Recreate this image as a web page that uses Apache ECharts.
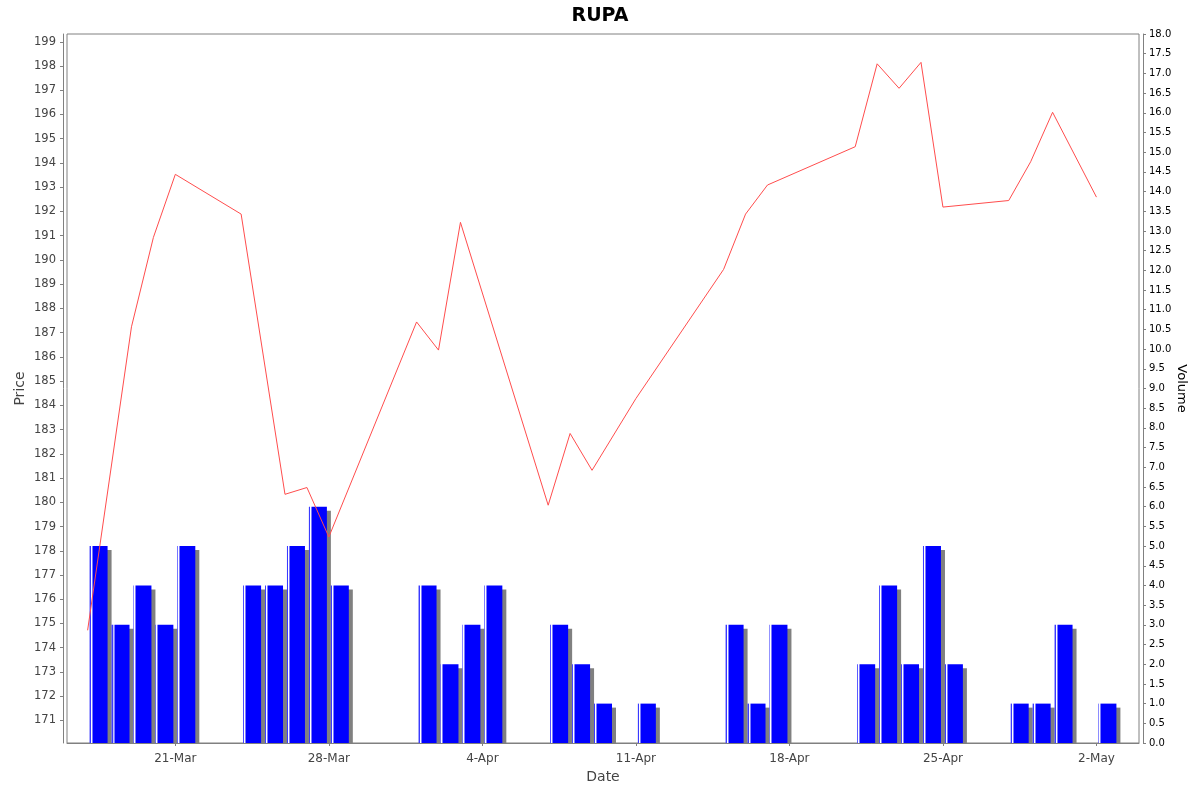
<!DOCTYPE html>
<html>
<head>
<meta charset="utf-8">
<title>RUPA</title>
<script src="https://cdn.jsdelivr.net/npm/echarts@6/dist/echarts.min.js"></script>
<style>
  html, body { margin: 0; padding: 0; background: #fff; }
  #chart { width: 1200px; height: 792px; }
</style>
</head>
<body>
<div id="chart"></div>
<script>
// trading days (2025), price close and volume
const dates = [
  '2025-03-17', '2025-03-18', '2025-03-19', '2025-03-20', '2025-03-21',
  '2025-03-24', '2025-03-25', '2025-03-26', '2025-03-27', '2025-03-28',
  '2025-04-01', '2025-04-02', '2025-04-03', '2025-04-04',
  '2025-04-07', '2025-04-08', '2025-04-09', '2025-04-11',
  '2025-04-15', '2025-04-16', '2025-04-17',
  '2025-04-21', '2025-04-22', '2025-04-23', '2025-04-24', '2025-04-25',
  '2025-04-28', '2025-04-29', '2025-04-30', '2025-05-02'
]
// null = no price that day (line just joins the neighbours)
const prices = [
  174.72, null, 187.24, 190.93, 193.53,
  191.89, null, 180.33, 180.61, 178.57,
  187.44, 186.28, 191.55, null,
  179.88, 182.84, 181.32, 184.28,
  189.61, 191.89, 193.09,
  194.67, 198.09, 197.08, 198.15, 192.18,
  192.45, 194.05, 196.09, 192.59
]
const volumes = [
  5, 3, 4, 3, 5,
  4, 4, 5, 6, 4,
  4, 2, 3, 4,
  3, 2, 1, 1,
  3, 1, 3,
  2, 4, 2, 5, 2,
  1, 1, 3, 1
]
const dateTicks = ['2025-03-21', '2025-03-28', '2025-04-04', '2025-04-11', '2025-04-18', '2025-04-25', '2025-05-02']
const priceTicks = [171, 172, 173, 174, 175, 176, 177, 178, 179, 180, 181, 182, 183, 184, 185,
  186, 187, 188, 189, 190, 191, 192, 193, 194, 195, 196, 197, 198, 199]
const months = ['Jan', 'Feb', 'Mar', 'Apr', 'May', 'Jun', 'Jul', 'Aug', 'Sep', 'Oct', 'Nov', 'Dec']

const DAY = 24 * 3600 * 1000
const toTime = s => {
  const p = s.split('-').map(Number)
  return new Date(p[0], p[1] - 1, p[2]).getTime()
}
const times = dates.map(toTime)
// axis runs over the whole span of the day bars plus ~2% margin
const span = times[times.length - 1] + DAY - times[0]
const xMin = times[0] - span * 0.02
const xMax = times[times.length - 1] + DAY + span * 0.02

const font = 'DejaVu Sans, sans-serif'
const axisGray = '#808080'
const BAR_W = 18
const SHADOW = 4

// each bar covers its trading day, so it sits at midday
const volData = times.map((t, i) => [t + DAY / 2, volumes[i]])

// gray drop shadow behind each volume bar, cut off at the plot floor
const renderShadow = (params, api) => {
  const top = api.coord([api.value(0), api.value(1)])
  const floor = api.coord([api.value(0), 0])
  return {
    type: 'rect',
    shape: {
      x: top[0] - BAR_W / 2 + SHADOW,
      y: top[1] + SHADOW,
      width: BAR_W,
      height: floor[1] - top[1] - SHADOW,
    },
    style: { fill: '#808080' },
  }
}

const chart = echarts.init(document.getElementById('chart'))
chart.setOption({
  animation: false,
  backgroundColor: '#fff',
  title: {
    text: 'RUPA',
    left: 'center',
    top: 2,
    textStyle: { fontFamily: font, fontSize: 19, fontWeight: 'bold', color: '#000' },
  },
  grid: {
    left: 67,
    right: 61,
    top: 34,
    bottom: 49,
    outerBoundsMode: 'none',
    show: true,
    borderColor: axisGray,
    borderWidth: 1,
    backgroundColor: '#fff',
  },
  // timestamps on a plain value axis, labelled as dates
  xAxis: {
    type: 'value',
    min: xMin,
    max: xMax,
    offset: 4,
    name: 'Date',
    nameLocation: 'middle',
    nameGap: 23,
    nameMoveOverlap: false,
    nameTextStyle: { fontFamily: font, fontSize: 14, color: '#444' },
    axisLine: { show: true, lineStyle: { color: axisGray } },
    axisTick: {
      show: true,
      length: 3,
      customValues: dateTicks.map(toTime),
      lineStyle: { color: axisGray },
    },
    axisLabel: {
      customValues: dateTicks.map(toTime),
      fontFamily: font,
      fontSize: 12,
      color: '#444',
      margin: 6,
      formatter: v => {
        const d = new Date(v)
        return d.getDate() + '-' + months[d.getMonth()]
      },
    },
    splitLine: { show: false },
  },
  yAxis: [
    {
      type: 'value',
      position: 'left',
      min: 170.07,
      max: 199.32,
      offset: 4,
      name: 'Price',
      nameLocation: 'middle',
      nameGap: 36,
      nameMoveOverlap: false,
      nameTextStyle: { fontFamily: font, fontSize: 14, color: '#444' },
      axisLine: { show: true, lineStyle: { color: axisGray } },
      axisTick: { show: true, length: 3, customValues: priceTicks, lineStyle: { color: axisGray } },
      axisLabel: {
        customValues: priceTicks,
        fontFamily: font,
        fontSize: 11.5,
        color: '#444',
        margin: 7,
      },
      splitLine: { show: false },
    },
    {
      type: 'value',
      position: 'right',
      min: 0,
      max: 18,
      interval: 0.5,
      offset: 4,
      name: 'Volume',
      nameLocation: 'middle',
      nameRotate: -90,
      nameGap: 32,
      nameMoveOverlap: false,
      nameTextStyle: { fontFamily: font, fontSize: 13, color: '#000' },
      axisLine: { show: true, lineStyle: { color: axisGray } },
      axisTick: { show: true, length: 3, lineStyle: { color: axisGray } },
      axisLabel: {
        fontFamily: font,
        fontSize: 10,
        color: '#000',
        margin: 6,
        formatter: v => v.toFixed(1),
      },
      splitLine: { show: false },
    },
  ],
  series: [
    {
      name: 'Volume shadow',
      type: 'custom',
      yAxisIndex: 1,
      data: volData,
      renderItem: renderShadow,
      silent: true,
      z: 1,
    },
    {
      name: 'Volume',
      type: 'bar',
      yAxisIndex: 1,
      data: volData,
      barWidth: BAR_W,
      itemStyle: {
        color: new echarts.graphic.LinearGradient(0, 0, 1, 0, [
          { offset: 0, color: '#3a3aff' },
          { offset: 0.055, color: '#3a3aff' },
          { offset: 0.056, color: '#ffffff' },
          { offset: 0.11, color: '#ffffff' },
          { offset: 0.111, color: '#7a7aff' },
          { offset: 0.166, color: '#7a7aff' },
          { offset: 0.167, color: '#0000ff' },
          { offset: 1, color: '#0000ff' },
        ]),
      },
      z: 2,
    },
    {
      name: 'Price',
      type: 'line',
      yAxisIndex: 0,
      data: times.map((t, i) => [t, prices[i]]),
      connectNulls: true,
      symbol: 'none',
      lineStyle: { color: '#ff4d4d', width: 1 },
      z: 3,
    },
  ],
})
</script>
</body>
</html>
